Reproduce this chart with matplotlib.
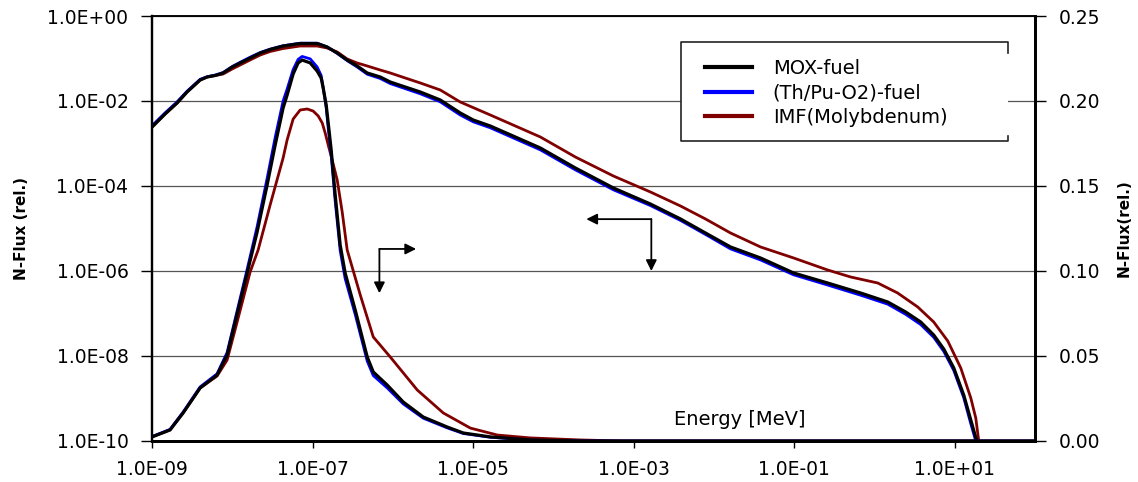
import matplotlib
matplotlib.use("Agg")
import matplotlib.pyplot as plt
import numpy as np
from matplotlib.ticker import FixedLocator, FuncFormatter, NullLocator
from matplotlib.patches import Rectangle
from matplotlib.lines import Line2D

plt.rcParams['font.family'] = ['DejaVu Sans']

# ---- broad spectra, left (log) axis: log10(E/MeV), log10(flux) ----
logE_mox = [-9.000, -8.838, -8.688, -8.564, -8.401, -8.314, -8.214, -8.115, -8.002, -7.903,
            -7.778, -7.653, -7.529, -7.367, -7.155, -6.943, -6.818, -6.693, -6.569, -6.444,
            -6.319, -6.157, -6.032, -5.845, -5.658, -5.409, -5.160, -4.998, -4.786, -4.474,
            -4.162, -3.726, -3.252, -2.791, -2.416, -2.105, -1.793, -1.419, -1.007, -0.584,
            -0.172, 0.165, 0.389, 0.576, 0.738, 0.863, 0.988, 1.112, 1.200, 1.274]
logF_mox = [-2.612, -2.306, -2.047, -1.788, -1.506, -1.435, -1.400, -1.341, -1.200, -1.106,
            -0.988, -0.871, -0.788, -0.706, -0.647, -0.647, -0.729, -0.871, -1.035, -1.176,
            -1.341, -1.435, -1.553, -1.671, -1.788, -1.976, -2.282, -2.447, -2.588, -2.847,
            -3.106, -3.576, -4.047, -4.424, -4.776, -5.106, -5.435, -5.694, -6.047, -6.282,
            -6.518, -6.729, -6.965, -7.200, -7.506, -7.835, -8.282, -8.918, -9.506, -10.0]
logE_thpu = [-9.000, -8.838, -8.688, -8.564, -8.401, -8.314, -8.214, -8.115, -8.002, -7.903,
             -7.778, -7.653, -7.529, -7.367, -7.155, -6.943, -6.818, -6.693, -6.569, -6.444,
             -6.319, -6.157, -6.032, -5.845, -5.658, -5.409, -5.160, -4.998, -4.786, -4.474,
             -4.162, -3.726, -3.252, -2.791, -2.416, -2.105, -1.793, -1.419, -1.007, -0.584,
             -0.172, 0.165, 0.389, 0.576, 0.738, 0.863, 0.988, 1.112, 1.195, 1.262]
logF_thpu = [-2.58, -2.28, -2.02, -1.77, -1.49, -1.43, -1.39, -1.33, -1.19, -1.09,
             -0.97, -0.86, -0.78, -0.70, -0.64, -0.64, -0.73, -0.88, -1.05, -1.20,
             -1.37, -1.47, -1.59, -1.71, -1.83, -2.02, -2.33, -2.49, -2.63, -2.89,
             -3.15, -3.62, -4.09, -4.46, -4.81, -5.14, -5.48, -5.74, -6.09, -6.33,
             -6.57, -6.78, -7.02, -7.26, -7.56, -7.89, -8.34, -8.98, -9.56, -10.0]
logE_imf = [-9.000, -8.838, -8.688, -8.564, -8.401, -8.314, -8.214, -8.115, -8.002, -7.903,
            -7.778, -7.653, -7.529, -7.367, -7.155, -6.943, -6.818, -6.693, -6.569, -6.444,
            -6.319, -6.157, -6.032, -5.845, -5.658, -5.409, -5.160, -4.786, -4.474, -4.162,
            -3.726, -3.252, -2.791, -2.416, -2.105, -1.793, -1.419, -1.007, -0.584, -0.297,
            0.040, 0.289, 0.539, 0.738, 0.913, 1.075, 1.200, 1.262, 1.299]
logF_imf = [-2.612, -2.306, -2.047, -1.788, -1.506, -1.435, -1.400, -1.365, -1.247, -1.153,
            -1.035, -0.918, -0.835, -0.765, -0.706, -0.706, -0.753, -0.847, -1.012, -1.106,
            -1.176, -1.271, -1.341, -1.459, -1.576, -1.741, -2.024, -2.329, -2.588, -2.847,
            -3.318, -3.765, -4.141, -4.471, -4.776, -5.106, -5.435, -5.694, -5.976, -6.141,
            -6.282, -6.518, -6.847, -7.200, -7.647, -8.282, -8.988, -9.459, -10.0]

# ---- thermal peak, right (linear) axis ----
logE_mox_lin = [-9.000, -8.776, -8.613, -8.401, -8.190, -8.065, -7.940, -7.815, -7.691, -7.566,
                -7.466, -7.367, -7.317, -7.242, -7.180, -7.130, -7.030, -6.943, -6.893, -6.868,
                -6.830, -6.805, -6.768, -6.718, -6.656, -6.594, -6.469, -6.319, -6.244, -6.070,
                -5.870, -5.621, -5.322, -5.122, -4.786, -4.287, -3.663, 2.000]
flux_mox_lin = [0.0024, 0.0065, 0.0165, 0.0312, 0.0388, 0.0506, 0.0747, 0.0988, 0.1229, 0.1506,
                0.1741, 0.1959, 0.2035, 0.2159, 0.2224, 0.2241, 0.2224, 0.2176, 0.2135, 0.2076,
                0.1976, 0.1871, 0.1712, 0.1447, 0.1153, 0.0988, 0.0771, 0.0494, 0.0406, 0.0329,
                0.0229, 0.0141, 0.0082, 0.0047, 0.0024, 0.0006, 0.0, 0.0]
logE_thpu_lin = logE_mox_lin
flux_thpu_lin = [0.0026, 0.0068, 0.0170, 0.0318, 0.0395, 0.0520, 0.0765, 0.1010, 0.1260, 0.1545,
                 0.1785, 0.2000, 0.2070, 0.2185, 0.2245, 0.2262, 0.2248, 0.2200, 0.2150, 0.2080,
                 0.1960, 0.1840, 0.1680, 0.1410, 0.1120, 0.0955, 0.0745, 0.0470, 0.0385, 0.0312,
                 0.0218, 0.0134, 0.0077, 0.0044, 0.0022, 0.0005, 0.0, 0.0]
logE_imf_lin = [-9.000, -8.776, -8.613, -8.401, -8.190, -8.065, -7.940, -7.778, -7.678, -7.529,
                -7.367, -7.317, -7.242, -7.155, -7.067, -6.993, -6.930, -6.880, -6.843, -6.805,
                -6.756, -6.693, -6.631, -6.569, -6.406, -6.244, -6.032, -5.696, -5.372, -5.035,
                -4.698, -4.287, -3.663, -3.127, 2.000]
flux_imf_lin = [0.0024, 0.0065, 0.0165, 0.0312, 0.0382, 0.0476, 0.0700, 0.0994, 0.1124, 0.1388,
                0.1665, 0.1771, 0.1894, 0.1947, 0.1953, 0.1941, 0.1912, 0.1871, 0.1812, 0.1741,
                0.1653, 0.1535, 0.1347, 0.1124, 0.0859, 0.0612, 0.0494, 0.0300, 0.0165, 0.0076,
                0.0035, 0.0018, 0.0006, 0.0, 0.0]

labels = ["MOX-fuel", "(Th/Pu-O2)-fuel", "IMF(Molybdenum)"]
colors = ["#000000", "#0000ff", "#800000"]

x_ticks = [1e-9, 1e-7, 1e-5, 1e-3, 1e-1, 1e1]
yl_ticks = [1e-10, 1e-8, 1e-6, 1e-4, 1e-2, 1e0]
yr_ticks = [0.00, 0.05, 0.10, 0.15, 0.20, 0.25]

fig = plt.figure(figsize=(11.38, 4.82), dpi=100)
ax = fig.add_axes([0.1336, 0.0851, 0.7759, 0.8817])
ax2 = ax.twinx()

def E(v): return 10.0 ** np.asarray(v)

kw = dict(solid_joinstyle='round', solid_capstyle='round')
ax.plot(E(logE_imf), E(logF_imf), color=colors[2], lw=2.0, zorder=1, **kw)
ax.plot(E(logE_thpu), E(logF_thpu), color=colors[1], lw=2.0, zorder=2, **kw)
ax.plot(E(logE_mox), E(logF_mox), color=colors[0], lw=2.3, zorder=3, **kw)
ax2.plot(E(logE_imf_lin), flux_imf_lin, color=colors[2], lw=2.0, zorder=1, **kw)
ax2.plot(E(logE_thpu_lin), flux_thpu_lin, color=colors[1], lw=2.0, zorder=2, **kw)
ax2.plot(E(logE_mox_lin), flux_mox_lin, color=colors[0], lw=2.3, zorder=3, **kw)

ax.set_xscale("log"); ax.set_yscale("log")
ax.set_xlim(1e-9, 1e2); ax.set_ylim(1e-10, 1e0)
ax2.set_ylim(0, 0.25)

ax.xaxis.set_major_locator(FixedLocator(x_ticks)); ax.xaxis.set_minor_locator(NullLocator())
ax.yaxis.set_major_locator(FixedLocator(yl_ticks)); ax.yaxis.set_minor_locator(NullLocator())
ax2.yaxis.set_major_locator(FixedLocator(yr_ticks))
sci = FuncFormatter(lambda v, p: f"{v:.1E}")
ax.xaxis.set_major_formatter(sci); ax.yaxis.set_major_formatter(sci)
ax2.yaxis.set_major_formatter(FuncFormatter(lambda v, p: f"{v:.2f}"))

ax.tick_params(axis='y', direction='out', length=8, width=1, pad=9, labelsize=13.5)
ax.tick_params(axis='x', direction='out', length=5, width=1, pad=9, labelsize=13.5)
ax2.tick_params(axis='y', direction='out', length=8, width=1, pad=9, labelsize=13.5)

ax.grid(axis='y', color='#555555', lw=0.9)
ax.set_axisbelow(True)
for a in (ax, ax2):
    a.spines['left'].set_linewidth(1.6)
    a.spines['bottom'].set_linewidth(2.0)
    a.spines['right'].set_linewidth(2.0)
    a.spines['top'].set_linewidth(1.1)

ax.set_ylabel("N-Flux (rel.)", fontsize=11, fontweight='bold', labelpad=13)
ax2.set_ylabel("N-Flux(rel.)", fontsize=11, fontweight='bold', labelpad=12)

ax.text(0.666, 0.05, "Energy [MeV]", transform=ax.transAxes, ha='center', va='center', fontsize=14)

# axis indicator arrows
arrow = dict(arrowstyle='-|>', color='black', lw=1.3, mutation_scale=16, shrinkA=0, shrinkB=0)
corner1, down1, right1 = (6.8e-7, 3.3e-6), (6.8e-7, 3.0e-7), (1.95e-6, 3.3e-6)
corner2, down2, left2 = (1.66e-3, 1.66e-5), (1.66e-3, 1.0e-6), (2.57e-4, 1.66e-5)
for tip, base in [(down1, corner1), (right1, corner1), (down2, corner2), (left2, corner2)]:
    ax.annotate('', xy=tip, xytext=base, arrowprops=arrow, zorder=5)

# legend with Excel-like bracket frame
x0, x1, yb, yt = 0.599, 0.969, 0.706, 0.939
ax2.add_patch(Rectangle((x0, yb), x1 - x0, yt - yb, transform=ax2.transAxes,
                        facecolor='white', edgecolor='none', zorder=8))
ax2.add_line(Line2D([x1, x1, x0, x0, x1, x1], [yt - 0.026, yt, yt, yb, yb, yb + 0.012],
                    transform=ax2.transAxes, color='#222222', lw=1.2, zorder=9))
handles = [Line2D([], [], color=colors[i], lw=3) for i in range(3)]
leg = ax2.legend(handles, labels, loc='upper left', bbox_to_anchor=(0.626, 0.900),
                 frameon=False, fontsize=14, handlelength=2.42, handletextpad=1.08,
                 labelspacing=0.3, borderaxespad=0, borderpad=0)
leg.set_zorder(10)

fig.savefig("out.png", dpi=100)
